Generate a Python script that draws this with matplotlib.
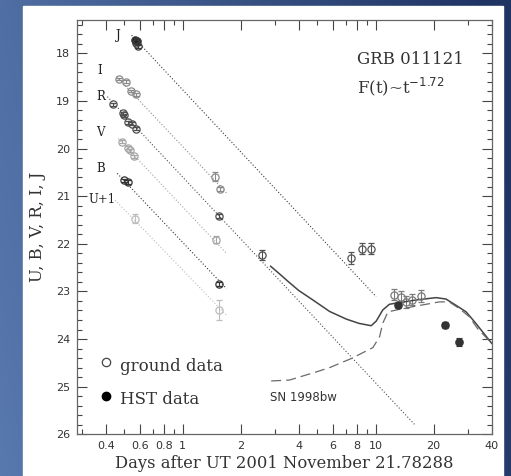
import numpy as np
import matplotlib
matplotlib.use("Agg")
import matplotlib.pyplot as plt
from matplotlib.patches import Rectangle
from matplotlib.ticker import FixedLocator, NullFormatter, MultipleLocator

# ---------------- data ----------------
# early ground photometry (days, mag, err)
J_t = [0.570, 0.578, 0.585, 0.575]
J_m = [17.71, 17.75, 17.85, 17.78]
J_e = [0.03, 0.03, 0.03, 0.03]

I_t = [0.469, 0.509, 0.541, 0.571, 1.47, 1.57]
I_m = [18.54, 18.60, 18.79, 18.86, 20.59, 20.85]
I_e = [0.03, 0.03, 0.03, 0.03, 0.10, 0.04]

R_t = [0.438, 0.493, 0.499, 0.524, 0.545, 0.573, 1.54, 2.59]
R_m = [19.07, 19.26, 19.30, 19.45, 19.48, 19.58, 21.42, 22.24]
R_e = [0.03, 0.03, 0.03, 0.03, 0.03, 0.03, 0.04, 0.10]

V_t = [0.484, 0.524, 0.534, 0.560, 1.49]
V_m = [19.86, 19.98, 20.04, 20.16, 21.91]
V_e = [0.03, 0.03, 0.03, 0.03, 0.07]

B_t = [0.500, 0.524, 1.54]
B_m = [20.67, 20.71, 22.85]
B_e = [0.04, 0.04, 0.04]

U_t = [0.567, 1.548]
U_m = [21.47, 23.39]
U_e = [0.10, 0.20]

# late ground data
late_t = [7.48, 8.50, 9.50]
late_m = [22.30, 22.10, 22.10]
late_e = [0.12, 0.12, 0.12]

bump_t = [12.4, 13.5, 14.4, 15.4, 17.2]
bump_m = [23.07, 23.11, 23.22, 23.17, 23.10]
bump_e = [0.12, 0.12, 0.12, 0.12, 0.12]

# HST data
hst_t = [13.1, 22.9, 27.2]
hst_m = [23.29, 23.71, 24.06]
hst_e = [0.05, 0.06, 0.09]

# power-law fits F(t)~t^-1.72: (t_start, t_end), (m_start, m_end)
fit_J = ([0.545, 10.08], [17.62, 23.11])
fit_I = ([0.456, 1.689], [18.49, 20.93])
fit_R = ([0.408, 15.91], [18.91, 25.79])
fit_V = ([0.465, 1.689], [19.79, 22.20])
fit_B = ([0.459, 1.689], [20.52, 22.94])
fit_U = ([0.447, 1.689], [21.08, 23.50])

# afterglow + SN model (solid)
mod_t = [2.86, 3.2, 3.5, 4.0, 4.74, 5.78, 7.05, 8.2, 9.5, 10.1, 10.9, 11.8, 13.0, 16.2, 20.6, 23.2, 26.1, 29.5, 33.1, 35.9, 40.0]
mod_m = [22.47, 22.64, 22.78, 22.98, 23.18, 23.42, 23.58, 23.67, 23.72, 23.62, 23.39, 23.27, 23.24, 23.18, 23.13, 23.16, 23.29, 23.43, 23.67, 23.85, 24.09]

# SN 1998bw (dashed)
sn_t = [2.88, 3.59, 4.93, 5.78, 7.48, 9.69, 10.5, 10.9, 11.6, 12.8, 15.6, 21.4, 24.1, 27.2, 30.6, 33.8, 40.0]
sn_m = [24.88, 24.86, 24.69, 24.60, 24.41, 24.18, 23.95, 23.67, 23.43, 23.39, 23.32, 23.22, 23.22, 23.36, 23.53, 23.78, 24.09]

band_labels = ["J", "I", "R", "V", "B", "U+1"]
band_label_t = [0.465, 0.374, 0.377, 0.374, 0.377, 0.384]
band_label_m = [17.62, 18.36, 18.91, 19.67, 20.42, 21.07]
xtick_major = [0.4, 0.6, 0.8, 1, 2, 4, 6, 8, 10, 20, 40]
xtick_labels = ["0.4", "0.6", "0.8", "1", "2", "4", "6", "8", "10", "20", "40"]
xtick_minor = [0.3, 0.5, 0.7, 0.9, 3, 5, 7, 9, 30]

# ---------------- figure ----------------
W, H = 511, 476
fig = plt.figure(figsize=(W / 100, H / 100), dpi=100)

# blue gradient slide background
bg = fig.add_axes([0, 0, 1, 1], zorder=0)
gx = np.linspace(0, 1, 256)
gy = np.linspace(0, 1, 64)[:, None]
c_left = np.array([0x58, 0x79, 0xae]) / 255
c_right = np.array([0x20, 0x34, 0x64]) / 255
frac = np.clip(gx[None, :] * 0.9 + (1 - gy) * 0.15, 0, 1)
img = c_left[None, None, :] * (1 - frac[..., None]) + c_right[None, None, :] * frac[..., None]
bg.imshow(img, aspect="auto", extent=[0, 1, 0, 1], origin="upper")
bg.set_xlim(0, 1)
bg.set_ylim(0, 1)
bg.axis("off")
bg.add_patch(Rectangle((23 / W, 0), (503 - 23) / W, (H - 6) / H, color="white", zorder=2))

L, R_, T, B_ = 77.3, 491.7, 20.0, 434.3
ax = fig.add_axes([L / W, 1 - B_ / H, (R_ - L) / W, (B_ - T) / H], zorder=1)
ax.set_facecolor("white")
ax.set_xscale("log")
ax.set_xlim(0.285, 40)
ax.set_ylim(26, 17.3)

dot = (0, (1, 1.8))
cols = {"J": "#3a3a3a", "I": "#8a8a8a", "R": "#4e4e4e", "V": "#a6a6a6", "B": "#333333", "U": "#bdbdbd"}

for fit, c in [(fit_J, cols["J"]), (fit_I, cols["I"]), (fit_R, cols["R"]),
               (fit_V, cols["V"]), (fit_B, cols["B"]), (fit_U, cols["U"])]:
    ax.plot(fit[0], fit[1], linestyle=dot, color=c, lw=0.8)

ms = 5.2
ekw = dict(fmt="o", mfc="none", ms=ms, mew=0.9, elinewidth=0.8, capsize=2.4, capthick=0.8)
ax.errorbar(I_t, I_m, yerr=I_e, color=cols["I"], **ekw)
ax.errorbar(R_t, R_m, yerr=R_e, color=cols["R"], **ekw)
ax.errorbar(V_t, V_m, yerr=V_e, color=cols["V"], **ekw)
ax.errorbar(B_t, B_m, yerr=B_e, color=cols["B"], **ekw)
ax.errorbar(U_t, U_m, yerr=U_e, color=cols["U"], **ekw)
ax.errorbar(J_t, J_m, yerr=J_e, color=cols["J"], **ekw)
ax.plot(J_t[:2], J_m[:2], "o", color="#222222", ms=ms - 0.6)
ax.errorbar(late_t, late_m, yerr=late_e, color="#555555", **ekw)
ax.errorbar(bump_t, bump_m, yerr=bump_e, color="#7a7a7a", **ekw)
ax.errorbar(hst_t, hst_m, yerr=hst_e, fmt="o", color="#333333", ms=ms, elinewidth=0.8,
            capsize=2.4, capthick=0.8)

ax.plot(mod_t, mod_m, color="#444444", lw=1.1)
ax.plot(sn_t, sn_m, color="#6a6a6a", lw=0.9, dashes=(8, 4))

for lab, tx, ty in zip(band_labels, band_label_t, band_label_m):
    ax.text(tx, ty, lab, family="DejaVu Serif", fontsize=8.5, ha="center", va="center", color="#222222")

ax.text(0.676, 0.905, "GRB 011121", transform=ax.transAxes, family="DejaVu Serif",
        fontsize=12, color="#333333", va="center")
ax.text(0.676, 0.838, r"F(t)~t$^{-1.72}$", transform=ax.transAxes, family="DejaVu Serif",
        fontsize=12, color="#333333", va="center")
ax.text(0.466, 0.089, "SN 1998bw", transform=ax.transAxes, family="DejaVu Sans",
        fontsize=8.5, color="#333333", va="center")

# manual legend
ax.plot([0.0694], [0.1735], "o", transform=ax.transAxes, mfc="white", mec="#444444", ms=6, mew=0.9)
ax.text(0.103, 0.163, "ground data", transform=ax.transAxes, family="DejaVu Serif",
        fontsize=12, color="#333333", va="center")
ax.plot([0.0694], [0.0918], "o", transform=ax.transAxes, color="black", ms=6)
ax.text(0.103, 0.084, "HST data", transform=ax.transAxes, family="DejaVu Serif",
        fontsize=12, color="#333333", va="center")

# ticks
ax.xaxis.set_major_locator(FixedLocator(xtick_major))
ax.xaxis.set_minor_locator(FixedLocator(xtick_minor))
ax.set_xticklabels(xtick_labels)
ax.xaxis.set_minor_formatter(NullFormatter())
ax.yaxis.set_major_locator(MultipleLocator(1))
ax.yaxis.set_minor_locator(MultipleLocator(0.2))
ax.tick_params(which="both", direction="in", top=True, right=True, color="#444444", width=0.8)
ax.tick_params(which="major", length=7, labelsize=8, labelcolor="#333333", pad=5)
ax.tick_params(which="minor", length=3.5)
for s in ax.spines.values():
    s.set_color("#666666")
    s.set_linewidth(0.9)

ax.set_xlabel("Days after UT 2001 November 21.78288", family="DejaVu Serif", fontsize=11.8,
              color="#333333", labelpad=3)
ax.set_ylabel("U, B, V, R, I, J", family="DejaVu Serif", fontsize=11.8, color="#333333", labelpad=7)

fig.savefig("out.png", dpi=100)
